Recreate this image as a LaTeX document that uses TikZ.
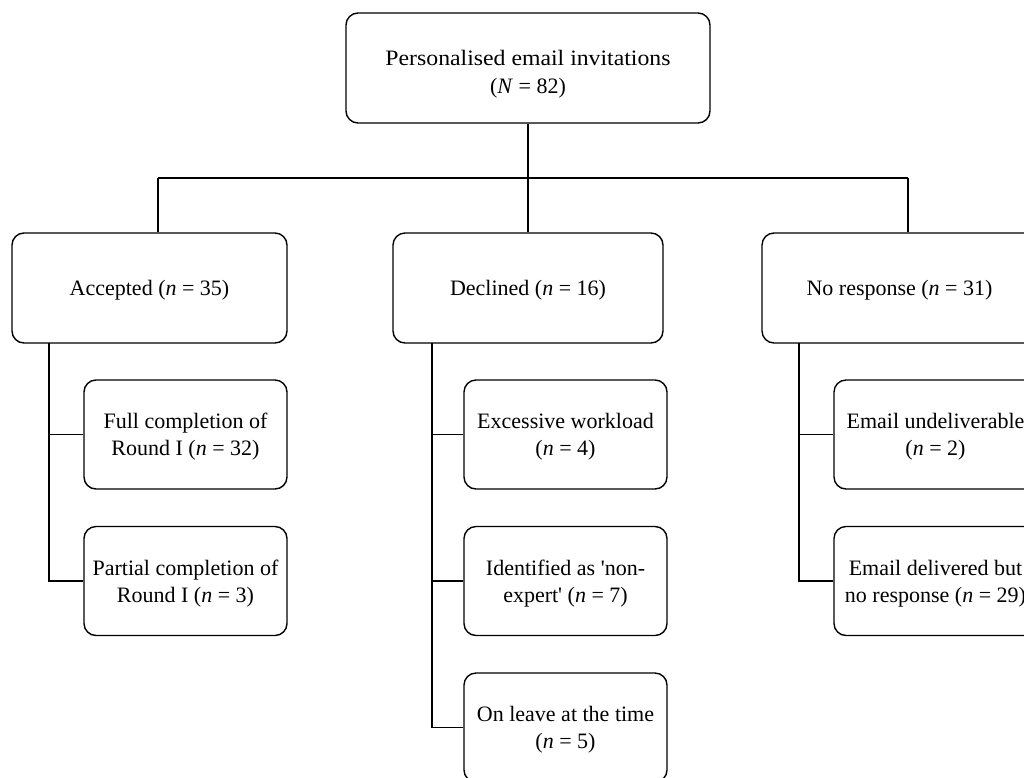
\documentclass[tikz,border=0pt]{standalone}
\usepackage{fontspec}
\setmainfont{Liberation Serif}[Ligatures=TeXOff]
\newcommand\mystrut{\rule{0pt}{20pt}}
\begin{document}
\begin{tikzpicture}[x=1pt,y=1pt,
  box/.style={draw, line width=1.4pt, rounded corners=12pt, align=center, inner sep=0pt,
    font=\fontsize{22}{27}\selectfont},
  top/.style={box, minimum width=364pt, minimum height=110pt, font=\fontsize{22}{28}\selectfont},
  mid/.style={box, minimum width=275pt, minimum height=110pt},
  leaf/.style={box, minimum width=203pt, minimum height=109pt},
  link/.style={line width=1.4pt}]
\useasboundingbox (0,0) rectangle (1024,-777);
\clip (0,0) rectangle (1024,-777);
\node[top] (top) at (528,-68) {\rule{0pt}{27pt}\scalebox{1.08}[1]{Personalised email invitations}\\(\textit{N} = 82)};
\node[mid] (acc) at (149.5,-288) {\mystrut Accepted (\textit{n} = 35)};
\node[mid, minimum width=270pt] (dec) at (528,-288) {\mystrut Declined (\textit{n} = 16)};
\node[mid] (nor) at (899.5,-288) {\mystrut No response (\textit{n} = 31)};
\node[leaf] (a1) at (185.5,-434.5) {\mystrut Full completion of\\Round I (\textit{n} = 32)};
\node[leaf] (a2) at (185.5,-581) {\mystrut Partial completion of\\Round I (\textit{n} = 3)};
\node[leaf] (d1) at (565.5,-434.5) {\mystrut Excessive workload\\(\textit{n} = 4)};
\node[leaf] (d2) at (565.5,-581) {\mystrut Identified as 'non-\\expert' (\textit{n} = 7)};
\node[leaf] (d3) at (565.5,-727.5) {\mystrut On leave at the time\\(\textit{n} = 5)};
\node[leaf] (n1) at (935.5,-434.5) {\mystrut Email undeliverable\\(\textit{n} = 2)};
\node[leaf] (n2) at (935.5,-581) {\mystrut Email delivered but\\no response (\textit{n} = 29)};
\coordinate (hl) at (158,-178);
\coordinate (hr) at (908,-178);
\coordinate (sa) at (49,-343);
\coordinate (sd) at (432,-343);
\coordinate (sn) at (799,-343);
\draw[link] (top.south) -- (top.south |- hl);
\draw[link] (hl) -- (hr);
\draw[link] (hl) -- (hl |- acc.north);
\draw[link] (dec.north |- hl) -- (dec.north);
\draw[link] (hr) -- (hr |- nor.north);
\draw[link] (sa) |- (a2.west);
\draw[link] (sa |- a1.west) -- (a1.west);
\draw[link] (sd) |- (d3.west);
\draw[link] (sd |- d1.west) -- (d1.west);
\draw[link] (sd |- d2.west) -- (d2.west);
\draw[link] (sn) |- (n2.west);
\draw[link] (sn |- n1.west) -- (n1.west);
\end{tikzpicture}
\end{document}
